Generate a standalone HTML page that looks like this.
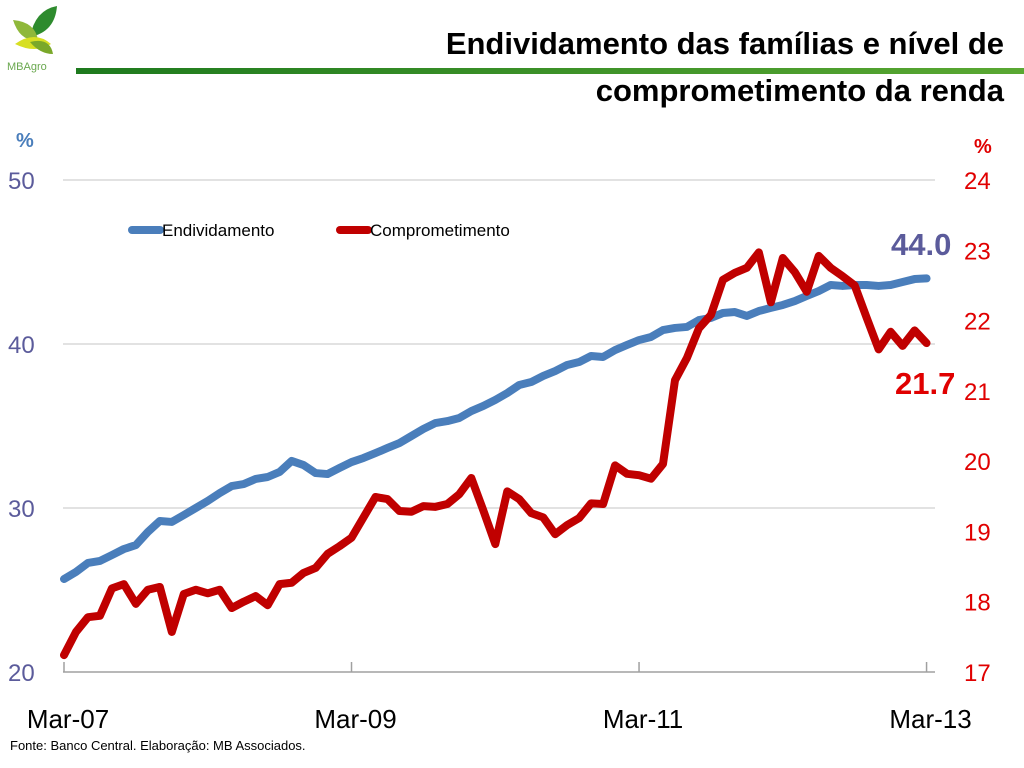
<!DOCTYPE html>
<html><head><meta charset="utf-8"><style>
body{margin:0;width:1024px;height:768px;background:#fff;overflow:hidden;font-family:"Liberation Sans",sans-serif;position:relative}
.t{position:absolute;right:20px;font-weight:bold;font-size:31px;color:#000;white-space:nowrap}
</style></head><body>
<svg width="70" height="75" style="position:absolute;left:5px;top:2px">
<path d="M25 35 Q30 8 52 4 Q50 30 25 35Z" fill="#2e8b2e"/>
<path d="M8 18 Q30 20 33 38 Q15 40 8 18Z" fill="#8fb83a"/>
<path d="M10 42 Q30 28 46 42 Q30 52 10 42Z" fill="#d7df23"/>
<path d="M25 40 Q45 35 48 52 Q35 52 25 40Z" fill="#7aa82a"/>
<text x="2" y="68" font-size="11" fill="#6aa84f" font-family="Liberation Sans">MBAgro</text>
</svg>
<div style="position:absolute;left:76px;top:68px;width:948px;height:6px;background:linear-gradient(90deg,#1e7a1e,#5aa832)"></div>
<div class="t" style="top:26px">Endividamento das famílias e nível de</div>
<div class="t" style="top:73px">comprometimento da renda</div>
<svg id="c" width="1024" height="768" style="position:absolute;left:0;top:0"></svg>
<div style="position:absolute;left:10px;top:738px;font-size:13px">Fonte: Banco Central. Elaboração: MB Associados.</div>
<script>
const debt=[25.67,26.1,26.65,26.77,27.13,27.5,27.74,28.54,29.21,29.15,29.57,30,30.43,30.91,31.34,31.46,31.77,31.89,32.2,32.87,32.62,32.13,32.07,32.44,32.8,33.05,33.35,33.66,33.96,34.39,34.82,35.18,35.3,35.49,35.91,36.22,36.59,37.01,37.5,37.68,38.05,38.35,38.72,38.9,39.27,39.21,39.63,39.94,40.24,40.43,40.85,40.98,41.04,41.46,41.59,41.89,41.95,41.71,42.01,42.2,42.38,42.62,42.93,43.23,43.6,43.54,43.6,43.6,43.54,43.6,43.78,43.96,44.0];
const commit=[17.24,17.57,17.78,17.8,18.19,18.25,17.97,18.17,18.21,17.57,18.11,18.17,18.12,18.17,17.91,18.0,18.08,17.95,18.25,18.27,18.41,18.48,18.68,18.79,18.91,19.2,19.49,19.46,19.29,19.28,19.36,19.35,19.39,19.53,19.76,19.3,18.82,19.57,19.46,19.26,19.2,18.96,19.09,19.19,19.4,19.39,19.94,19.82,19.8,19.75,19.96,21.15,21.47,21.89,22.08,22.58,22.68,22.75,22.97,22.26,22.89,22.69,22.41,22.92,22.75,22.63,22.5,22.04,21.59,21.84,21.64,21.86,21.68];
const leftTicks=[20,30,40,50];
const rightTicks=[17,18,19,20,21,22,23,24];
const xLabels=["Mar-07","Mar-09","Mar-11","Mar-13"];
const xLabelIdx=[0,24,48,72];
const debtLabel="44.0", commitLabel="21.7";
const NS="http://www.w3.org/2000/svg";
const svg=document.getElementById('c');
const X=i=>64+i*11.98;
const YL=v=>672-(v-20)*16.4;
const YR=v=>672-(v-17)*(492/7);
function el(t,a,txt){const e=document.createElementNS(NS,t);for(const k in a)e.setAttribute(k,a[k]);if(txt!==undefined)e.textContent=txt;svg.appendChild(e);return e;}
leftTicks.forEach(v=>{
 if(v>20){const g=el('line',{x1:63,x2:935,y1:YL(v),y2:YL(v),stroke:'#d9d9d9','stroke-width':1.5});
 
 }
 const t=el('text',{x:8,y:YL(v)+9,'font-size':24,fill:'#5b5b9b','font-family':'Liberation Sans'},v);
 
 
});
rightTicks.forEach(v=>{
 const t=el('text',{x:964,y:YR(v)+9,'font-size':24,fill:'#e00000','font-family':'Liberation Sans'},v);
 
 
});
const ax=el('line',{x1:63,x2:935,y1:672,y2:672,stroke:'#a0a0a0','stroke-width':1.5});


xLabelIdx.forEach((idx,k)=>{
 const tk=el('line',{x1:X(idx),x2:X(idx),y1:662,y2:672,stroke:'#a0a0a0','stroke-width':1.5});
 
 
 const t=el('text',{x:X(idx)+4,y:728,'font-size':26,fill:'#000','text-anchor':'middle','font-family':'Liberation Sans'},xLabels[k]);
 
 
});
const p1=el('polyline',{points:debt.map((v,i)=>X(i)+','+YL(v)).join(' '),fill:'none',stroke:'#4a7ebb','stroke-width':8,'stroke-linejoin':'round','stroke-linecap':'round'});


const p2=el('polyline',{points:commit.map((v,i)=>X(i)+','+YR(v)).join(' '),fill:'none',stroke:'#c00000','stroke-width':8,'stroke-linejoin':'round','stroke-linecap':'round'});


const l1=el('text',{x:891,y:255,'font-size':31,'font-weight':'bold',fill:'#5b5b9b','font-family':'Liberation Sans'},debtLabel);


const l2=el('text',{x:895,y:394,'font-size':31,'font-weight':'bold',fill:'#e00000','font-family':'Liberation Sans'},commitLabel);


const u1=el('text',{x:16,y:147,'font-size':20,'font-weight':'bold',fill:'#4a7ebb','font-family':'Liberation Sans'},'%');


const u2=el('text',{x:974,y:153,'font-size':20,'font-weight':'bold',fill:'#e00000','font-family':'Liberation Sans'},'%');


const lg1=el('line',{x1:132,x2:160,y1:230,y2:230,stroke:'#4a7ebb','stroke-width':8,'stroke-linecap':'round'});


const lt1=el('text',{x:162,y:236,'font-size':17,fill:'#000','font-family':'Liberation Sans'},'Endividamento');


const lg2=el('line',{x1:340,x2:368,y1:230,y2:230,stroke:'#c00000','stroke-width':8,'stroke-linecap':'round'});


const lt2=el('text',{x:370,y:236,'font-size':17,fill:'#000','font-family':'Liberation Sans'},'Comprometimento');


</script>
</body></html>
